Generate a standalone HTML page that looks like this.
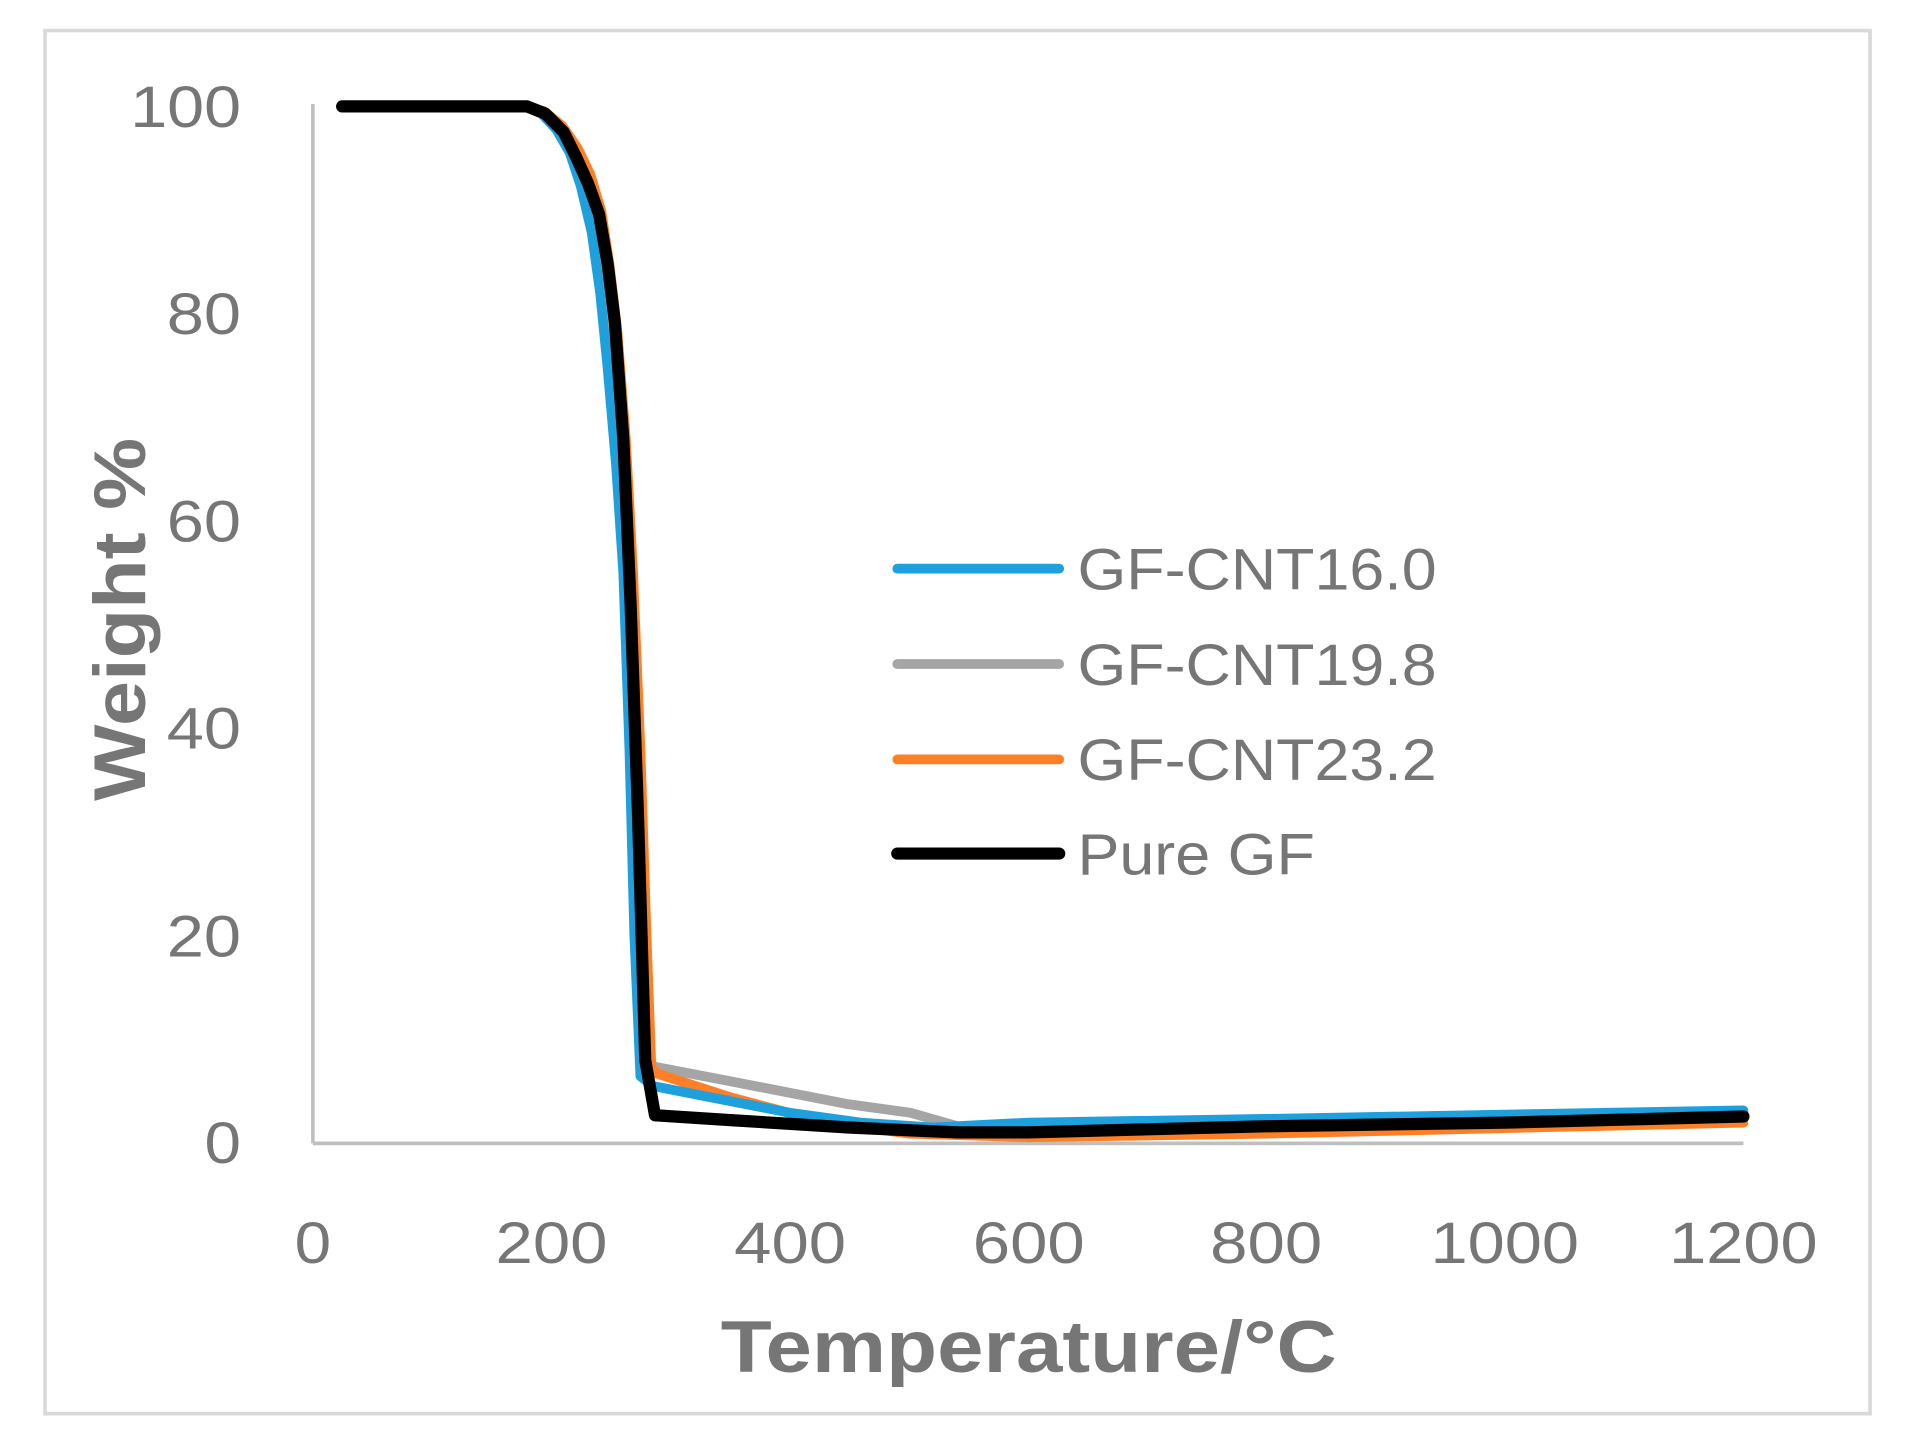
<!DOCTYPE html>
<html><head><meta charset="utf-8"><style>
html,body{margin:0;padding:0;background:#fff;}
svg{display:block;}
text{font-family:"Liberation Sans",sans-serif;fill:#767676;}
</style></head><body>
<svg width="1909" height="1443" viewBox="0 0 1568 1180" preserveAspectRatio="none" xmlns="http://www.w3.org/2000/svg">
<rect x="0" y="0" width="1568" height="1180" fill="#fff"/>
<rect x="37" y="25" width="1499" height="1131" fill="none" stroke="#d9d9d9" stroke-width="3"/>
<line x1="257" y1="85" x2="257" y2="935" stroke="#bfbfbf" stroke-width="3"/>
<line x1="257" y1="935" x2="1432" y2="935" stroke="#bfbfbf" stroke-width="3"/>
<g font-size="48">
<text x="168" y="951" textLength="30" lengthAdjust="spacingAndGlyphs">0</text>
<text x="137" y="782" textLength="61" lengthAdjust="spacingAndGlyphs">20</text>
<text x="137" y="612" textLength="61" lengthAdjust="spacingAndGlyphs">40</text>
<text x="137" y="443" textLength="61" lengthAdjust="spacingAndGlyphs">60</text>
<text x="137" y="273" textLength="61" lengthAdjust="spacingAndGlyphs">80</text>
<text x="107" y="104" textLength="91" lengthAdjust="spacingAndGlyphs">100</text>
</g>
<g font-size="48">
<text x="242" y="1033" textLength="30" lengthAdjust="spacingAndGlyphs">0</text>
<text x="407" y="1033" textLength="92" lengthAdjust="spacingAndGlyphs">200</text>
<text x="603" y="1033" textLength="92" lengthAdjust="spacingAndGlyphs">400</text>
<text x="799" y="1033" textLength="92" lengthAdjust="spacingAndGlyphs">600</text>
<text x="994" y="1033" textLength="92" lengthAdjust="spacingAndGlyphs">800</text>
<text x="1175" y="1033" textLength="122" lengthAdjust="spacingAndGlyphs">1000</text>
<text x="1371" y="1033" textLength="122" lengthAdjust="spacingAndGlyphs">1200</text>
</g>
<text x="592" y="1122" font-size="60" font-weight="bold" textLength="506" lengthAdjust="spacingAndGlyphs">Temperature/°C</text>
<text transform="translate(119,655) rotate(-90)" font-size="60" font-weight="bold" textLength="297" lengthAdjust="spacingAndGlyphs">Weight %</text>
<g fill="none" stroke-width="8" stroke-linejoin="round" stroke-linecap="round">
<polyline stroke="#a5a5a5" points="281,87 433,87 445,91 460,103 472,122 481,143 490,173 497,219 503,270 510,359 516,469 522,613 528,764 532,871 536,872 599,884 697,903 748,910 790,922 845,924 1040,922 1432,913"/>
<polyline stroke="#ff7f27" points="281,87 433,87 447,91 462,103 475,122 485,143 494,173 501,219 507,270 514,359 520,469 526,613 531,764 535,873 540,878 599,897 678,918 747,927 845,930 1040,927 1432,918"/>
<polyline stroke="#1ea0dc" points="281,87 433,87 443,91 457,106 468,125 477,152 486,190 493,240 499,300 506,380 512,469 517,613 521,764 526,880 536,888 649,910 707,918 766,922 805,920 845,918 1040,915 1432,908"/>
<polyline stroke="#000" stroke-width="10" points="281,87 433,87 448,93 463,108 473,128 483,150 492,175 499,215 505,263 512,359 518,495 524,665 530,867 538,912 600,916 697,922 786,926 845,926 1040,921 1236,918 1432,913"/>
</g>
<g stroke-width="8" stroke-linecap="round">
<line x1="737" y1="465" x2="870" y2="465" stroke="#1ea0dc"/>
<line x1="737" y1="543" x2="870" y2="543" stroke="#a5a5a5"/>
<line x1="737" y1="621" x2="870" y2="621" stroke="#ff7f27"/>
<line x1="737" y1="698" x2="870" y2="698" stroke="#000" stroke-width="10"/>
</g>
<g font-size="48">
<text x="885" y="482" textLength="295" lengthAdjust="spacingAndGlyphs">GF-CNT16.0</text>
<text x="885" y="560" textLength="295" lengthAdjust="spacingAndGlyphs">GF-CNT19.8</text>
<text x="885" y="638" textLength="295" lengthAdjust="spacingAndGlyphs">GF-CNT23.2</text>
<text x="885" y="715" textLength="195" lengthAdjust="spacingAndGlyphs">Pure GF</text>
</g>
</svg>
</body></html>
